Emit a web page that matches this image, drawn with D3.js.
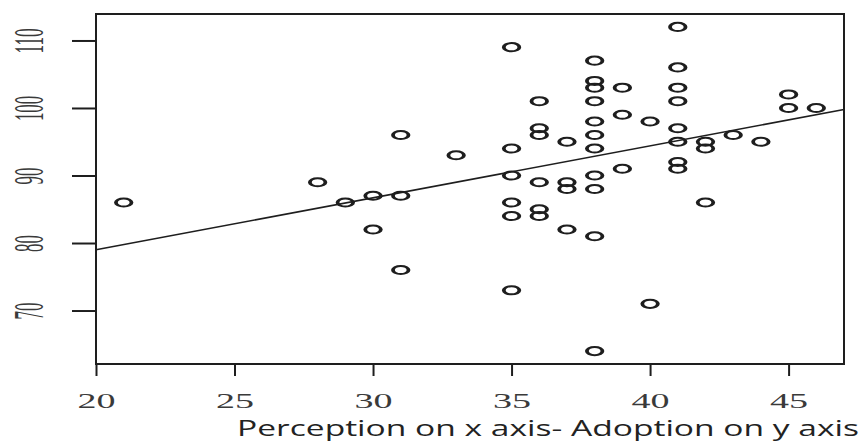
<!DOCTYPE html>
<html>
<head>
<meta charset="utf-8">
<script src="https://cdn.jsdelivr.net/npm/d3@7"></script>
<style>
  body { margin: 0; background: #fff; }
  svg { display: block; }
  .tick text { font-family: "Liberation Serif", "DejaVu Serif", serif; }
</style>
</head>
<body>
<svg width="863" height="441"></svg>
<script>
// perception scores (x) and adoption scores (y)
var perception = [21, 28, 29, 30, 30, 31, 31, 31, 33,
    35, 35, 35, 35, 35, 35,
    36, 36, 36, 36, 36, 36,
    37, 37, 37, 37,
    38, 38, 38, 38, 38, 38, 38, 38, 38, 38, 38,
    39, 39, 39, 40, 40,
    41, 41, 41, 41, 41, 41, 41, 41,
    42, 42, 42, 43, 44, 45, 45, 46];
var adoption = [86, 89, 86, 87, 82, 96, 87, 76, 93,
    109, 94, 90, 86, 84, 73,
    101, 97, 96, 89, 85, 84,
    95, 89, 88, 82,
    107, 104, 103, 101, 98, 96, 94, 90, 88, 81, 64,
    103, 99, 91, 98, 71,
    112, 106, 103, 101, 97, 95, 92, 91,
    95, 94, 86, 96, 95, 102, 100, 100];
var xTicks = [20, 25, 30, 35, 40, 45];
var yTicks = [70, 80, 90, 100, 110];
// fitted line (abline), intercept and slope
var fitIntercept = 63.61, fitSlope = 0.7693;
var xLabel = 'Perception on x axis- Adoption on y axis';

var data = perception.map(function(d, i) {
    return {x: d, y: adoption[i]};
});

// plot region (window.top is read-only, so no plain "top")
var plotL = 96, plotR = 844, plotT = 14, plotB = 364;

// R style: 4% padding round the data range
var xExt = d3.extent(perception), yExt = d3.extent(adoption);
var xPad = (xExt[1] - xExt[0]) * 0.04, yPad = (yExt[1] - yExt[0]) * 0.04;
var x = d3.scaleLinear().domain([xExt[0] - xPad, xExt[1] + xPad]).range([plotL, plotR]);
var y = d3.scaleLinear().domain([yExt[0] - yPad, yExt[1] + yPad]).range([plotB, plotT]);

var svg = d3.select('svg');
var ink = '#1e1e1e';

// points: R pch 1, stretched sideways like the picture
svg.append('g')
    .selectAll('g')
    .data(data)
    .join('g')
    .attr('transform', function(d) {
        return 'translate(' + x(d.x) + ',' + y(d.y) + ') scale(1.9,1)';
    })
    .append('circle')
    .attr('r', 4.1)
    .style('fill', 'none')
    .style('stroke', ink)
    .style('stroke-width', 2);

// fitted line across the plot region
var xd = x.domain();
svg.append('line')
    .attr('x1', x(xd[0]))
    .attr('y1', y(fitIntercept + fitSlope * xd[0]))
    .attr('x2', x(xd[1]))
    .attr('y2', y(fitIntercept + fitSlope * xd[1]))
    .style('stroke', ink)
    .style('stroke-width', 1.6);

// x axis
var gx = svg.append('g')
    .attr('font-family', null)
    .attr('transform', 'translate(0,' + plotB + ')')
    .call(d3.axisBottom(x).tickValues(xTicks).tickSize(12).tickFormat(d3.format('d')));
gx.attr('font-family', null);
gx.select('.domain').remove();
gx.selectAll('line').style('stroke', ink).style('stroke-width', 2);
gx.selectAll('text')
    .attr('y', 44)
    .attr('dy', null)
    .attr('textLength', 38)
    .attr('lengthAdjust', 'spacingAndGlyphs')
    .style('font-size', '22px')
    .style('fill', '#3a3a3a');

// y axis, labels turned like R's las = 0
var gy = svg.append('g')
    .attr('transform', 'translate(' + plotL + ',0)')
    .call(d3.axisLeft(y).tickValues(yTicks).tickSize(24).tickFormat(d3.format('d')));
gy.attr('font-family', null);
gy.select('.domain').remove();
gy.selectAll('line').style('stroke', ink).style('stroke-width', 2);
gy.selectAll('text')
    .attr('x', null)
    .attr('dy', null)
    .attr('text-anchor', 'middle')
    .attr('transform', 'translate(-53,0) rotate(-90)')
    .attr('textLength', function(d) { return String(d).length * 8.4; })
    .attr('lengthAdjust', 'spacingAndGlyphs')
    .style('font-size', '43px')
    .style('fill', '#3a3a3a');

// box round the plot
svg.append('rect')
    .attr('x', plotL)
    .attr('y', plotT)
    .attr('width', plotR - plotL)
    .attr('height', plotB - plotT)
    .style('fill', 'none')
    .style('stroke', ink)
    .style('stroke-width', 2);

svg.append('text')
    .attr('x', 237)
    .attr('y', 436)
    .attr('textLength', 622)
    .attr('lengthAdjust', 'spacingAndGlyphs')
    .style('font-family', '"Open Sans", sans-serif')
    .style('font-size', '21px')
    .style('fill', '#222')
    .text(xLabel);
</script>
</body>
</html>
